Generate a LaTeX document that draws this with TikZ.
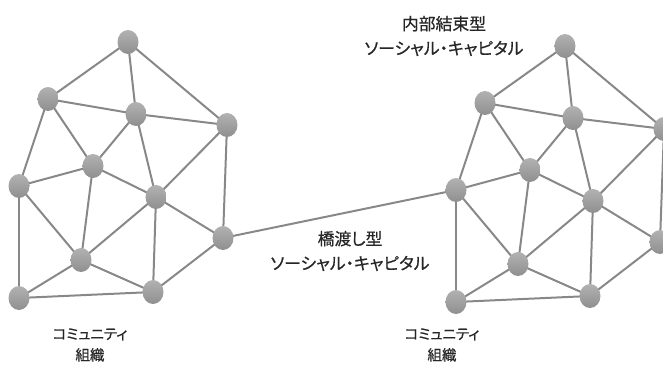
\documentclass[tikz,border=0pt]{standalone}
\usepackage{fontspec}
\newfontfamily\jp[RawFeature=+palt,UprightFeatures={FakeBold=0.6}]{Noto Sans CJK JP}
\usetikzlibrary{shapes.geometric}
\definecolor{nodegray}{HTML}{A4A4A4}
\definecolor{nodedark}{HTML}{8F8F8F}
\definecolor{edgegray}{HTML}{888888}
\tikzset{
  dot/.style={ellipse, minimum width=21pt, minimum height=24pt, inner sep=0pt,
    top color=nodegray!85!white, bottom color=nodedark, draw=none},
  link/.style={draw=edgegray, line width=2pt},
  lbl/.style={font=\jp\fontsize{16.8}{24.5}\selectfont, align=center, text=black!85, inner sep=0pt},
  sublbl/.style={lbl, font=\jp\fontsize{14.5}{21}\selectfont}
}
\begin{document}
\begin{tikzpicture}[x=1pt,y=-1pt]
\useasboundingbox (0,0) rectangle (663,364);
\clip (0,0) rectangle (663,364);
\foreach \n/\x/\y in {A/128/42,B/48/99,C/136/114,D/227/125,E/93/166,F/19/186,G/156/197,H/223/238,I/81/260,J/19/298,K/153/292}{
  \coordinate (L\n) at (\x,\y);
  \coordinate (R\n) at (\x+437,\y+4);
}
\foreach \s in {L,R}{
  \foreach \a/\b in {A/B,A/C,A/D,B/C,B/F,B/E,C/D,C/E,C/G,D/G,D/H,E/F,E/G,E/I,F/I,F/J,G/I,G/K,G/H,H/K,I/J,I/K,J/K}{
    \draw[link] (\s\a) -- (\s\b);
  }
}
\draw[link] (LH) -- (RF);
\foreach \s in {L,R}{
  \foreach \n in {A,B,C,D,E,F,G,H,I,J,K}{
    \node[dot] (\s\n n) at (\s\n) {};
  }
}
\node[lbl] (tb) at (444,36) {内部結束型\\ソーシャル・キャピタル};
\node[lbl] (br) at (350,251) {橋渡し型\\ソーシャル・キャピタル};
\node[sublbl] (cl) at (90,345) {コミュニティ\\組織};
\node[sublbl] (cr) at (442,345) {コミュニティ\\組織};
\end{tikzpicture}
\end{document}
